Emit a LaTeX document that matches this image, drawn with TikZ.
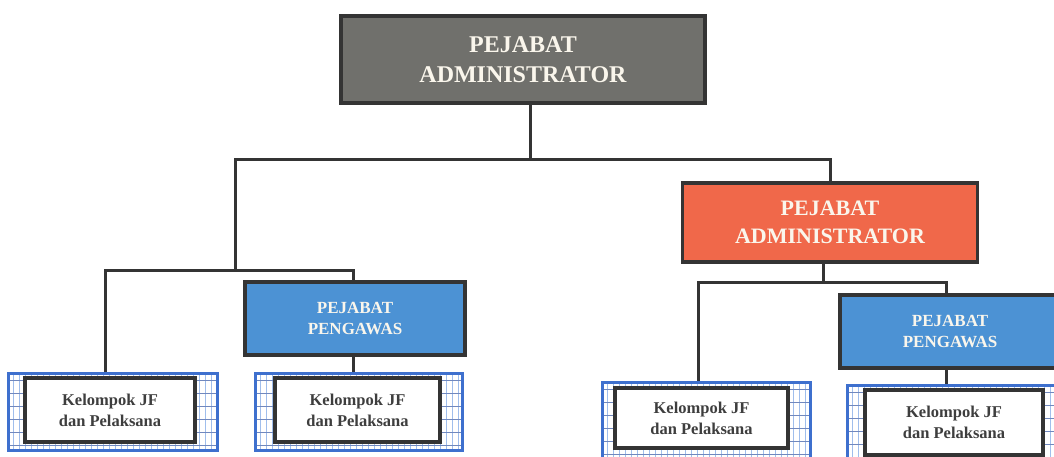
\documentclass[tikz,border=0pt]{standalone}
\usepackage{fontspec}
\setmainfont{Liberation Serif}
\definecolor{frame}{RGB}{52,52,52}
\definecolor{headgray}{RGB}{112,112,108}
\definecolor{headorange}{RGB}{240,104,74}
\definecolor{headblue}{RGB}{76,146,212}
\definecolor{paneledge}{RGB}{62,112,206}
\definecolor{gridlight}{RGB}{160,190,236}
\definecolor{griddark}{RGB}{112,136,190}
\definecolor{cream}{RGB}{250,246,236}
\definecolor{bodytext}{RGB}{62,62,62}
\begin{document}
\begin{tikzpicture}[x=1pt,y=-1pt,
  conn/.style={draw=frame, line width=3pt},
  unit/.style={draw=frame, line width=3.4pt, inner sep=0pt, align=center, text=cream},
  admin/.style={unit, fill=headgray, minimum width=364, minimum height=87,
    font=\bfseries\fontsize{24}{30}\selectfont},
  subadmin/.style={unit, fill=headorange, minimum width=295, minimum height=79,
    font=\bfseries\fontsize{22}{28}\selectfont},
  super/.style={unit, fill=headblue, minimum width=220, minimum height=73,
    font=\bfseries\fontsize{17}{21}\selectfont},
  panel/.style={draw=paneledge, line width=3pt, inner sep=0pt},
  jfbox/.style={draw=frame, fill=white, line width=3.6pt, inner sep=0pt, align=center,
    text=bodytext, font=\bfseries\fontsize{16.5}{21}\selectfont},
  gridv/.style={draw=gridlight, line width=1pt},
  gridh/.style={draw=griddark, line width=1pt}]
\useasboundingbox (0,0) rectangle (1054,457);
\clip (0,0) rectangle (1054,457);

% heads of the structure
\node[admin] (top) at (523,59.5) {PEJABAT\\ADMINISTRATOR};
\node[subadmin] (orange) at (830,222.5) {PEJABAT\\ADMINISTRATOR};
\node[super] (blueL) at (355,318.5) {PEJABAT\\PENGAWAS};
\node[super] (blueR) at (950,331.5) {PEJABAT\\PENGAWAS};

% groups of functional staff: blue grid panel with a white label box on top
\foreach \n/\xa/\ya/\xb/\yb/\ix/\iy/\iw/\ih in {
    p1/8/373/217/450/110/410/170/64,
    p2/255/373/462/450/357.5/410/165/64,
    p3/602/382/810/460/701.5/418/173/60,
    p4/847/385/1062/466/954/422.5/178/65} {
  \fill[white] (\xa,\ya) rectangle (\xb,\yb);
  \begin{scope}
    \clip (\xa,\ya) rectangle (\xb,\yb);
    \foreach \gx in {5,11,...,230} \draw[gridv] (\xa+\gx,\ya) -- (\xa+\gx,\yb);
    \foreach \gy in {7,20,...,90} \draw[gridh] (\xa,\ya+\gy) -- (\xb,\ya+\gy);
  \end{scope}
  \node[panel, minimum width={\xb-\xa}, minimum height={\yb-\ya}] (\n) at ({(\xa+\xb)/2},{(\ya+\yb)/2}) {};
  \node[jfbox, minimum width=\iw, minimum height=\ih] (\n-in) at (\ix,\iy) {Kelompok JF\\dan Pelaksana};
}

% junction points of the connectors
\coordinate (ja) at (530,160);
\coordinate (la) at (235,160);
\coordinate (lb) at (235,270);
\coordinate (lc) at (105,270);
\coordinate (ld) at (353,270);
\coordinate (rb) at (823,282);
\coordinate (rc) at (698,282);
\coordinate (rd) at (946,282);

% connectors
\draw[conn] (top.south -| ja) -- (ja);
\draw[conn] (lb) -- (la) -| (orange.north);
\draw[conn] (p1.north -| lc) -- (lc) -- (ld) -- (blueL.north -| ld);
\draw[conn] (blueL.south -| ld) -- (p2.north -| ld);
\draw[conn] (orange.south -| rb) -- (rb);
\draw[conn] (p3.north -| rc) -- (rc) -- (rd) -- (blueR.north -| rd);
\draw[conn] (blueR.south -| rd) -- (p4.north -| rd);
\end{tikzpicture}
\end{document}
